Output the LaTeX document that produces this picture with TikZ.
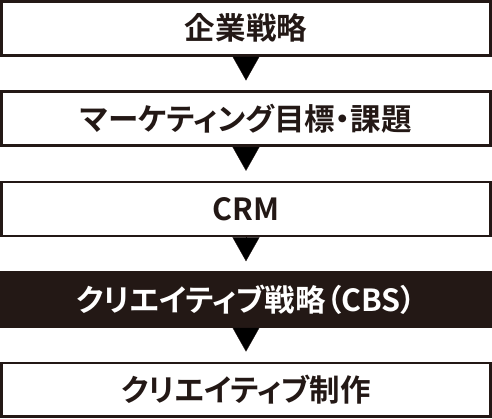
\documentclass[tikz,border=0pt]{standalone}
\usepackage{fontspec}
\setmainfont{Noto Sans CJK JP}[BoldFont={Noto Sans CJK JP Bold},RawFeature=+palt]
\usetikzlibrary{arrows.meta,positioning}
\definecolor{ink}{HTML}{231815}

\begin{document}
\begin{tikzpicture}[node distance=33.875pt,
    box/.style={draw=ink,line width=2.6pt,minimum width=489.4pt,
      minimum height=53.9pt,inner sep=0pt,text=ink,
      font=\fontsize{30.5pt}{34pt}\selectfont\bfseries},
    dark/.style={box,fill=ink,text=white},
    flow/.style={draw=ink,line width=0.3pt,shorten >=9.875pt,
      -{Triangle[length=24pt,width=27pt]}}]

  \node[box] (corp) {企業戦略};
  \node[box] (mkt) [below=of corp] {マーケティング目標・課題};
  \node[box] (crm) [below=of mkt] {CRM};
  \node[dark] (cbs) [below=of crm] {クリエイティブ戦略（CBS）};
  \node[box] (make) [below=of cbs] {クリエイティブ制作};

  \path[flow]
  (corp) edge (mkt)
  (mkt) edge (crm)
  (crm) edge (cbs)
  (cbs) edge (make);

  \useasboundingbox (corp.north west) rectangle (make.south east);

\end{tikzpicture}
\end{document}
